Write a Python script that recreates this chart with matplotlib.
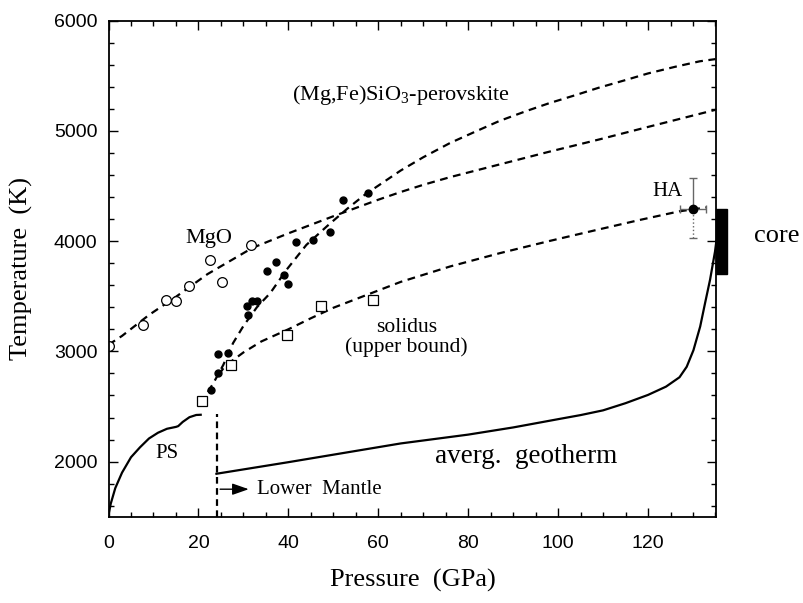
import matplotlib
matplotlib.use("Agg")
import matplotlib.pyplot as plt
import matplotlib.transforms as mtransforms
from matplotlib.patches import Rectangle
from matplotlib.ticker import MultipleLocator

plt.rcParams["mathtext.fontset"] = "custom"
plt.rcParams["mathtext.rm"] = "Liberation Serif"
plt.rcParams["mathtext.it"] = "Liberation Serif:italic"

# ---------------- data ----------------
# MgO melting data (open circles)
mgo_P = [0, 7.6, 12.7, 15.1, 18.0, 22.5, 25.2, 31.6]
mgo_T = [3050, 3235, 3470, 3455, 3590, 3825, 3632, 3968]

# (Mg,Fe)SiO3-perovskite melting data (filled circles)
pv_P = [22.7, 24.3, 24.3, 26.5, 30.7, 31.0, 31.8, 33.0, 35.3, 37.2, 39.0, 39.9,
        41.8, 45.5, 49.2, 52.2, 57.7]
pv_T = [2650, 2800, 2977, 2989, 3407, 3332, 3453, 3453, 3725, 3814, 3689, 3614,
        3993, 4014, 4086, 4368, 4438]

# solidus data (open squares)
sol_P = [20.7, 27.3, 39.7, 47.2, 58.9]
sol_T = [2553, 2877, 3150, 3410, 3468]

# fitted curves (dashed)
mgo_fit_P = [0, 3, 9, 15, 22, 32, 40, 50, 60, 65, 70, 76, 87, 98, 109, 120, 135]
mgo_fit_T = [3060, 3140, 3330, 3495, 3700, 3938, 4070, 4225, 4375, 4445, 4510, 4580,
             4695, 4810, 4920, 5035, 5190]

pv_fit_P = [20.5, 23.3, 25.5, 27.7, 30, 33, 36, 39.6, 44, 48.6, 53, 57, 61, 65, 70,
            76, 82, 87, 93, 98, 104, 109, 115, 120, 126, 131.5, 135]
pv_fit_T = [2530, 2710, 2875, 3075, 3230, 3400, 3530, 3740, 3965, 4135, 4290, 4420,
            4530, 4640, 4760, 4890, 5000, 5090, 5180, 5250, 5325, 5390, 5460, 5520,
            5580, 5630, 5650]

sol_fit_P = [24.5, 26, 30, 34, 40, 45, 50, 57, 65, 76, 87, 98, 109, 118, 127, 133]
sol_fit_T = [2790, 2870, 2990, 3090, 3200, 3300, 3395, 3505, 3630, 3770, 3890, 4000,
             4105, 4190, 4270, 4305]

# upper-mantle adiabat (PS)
ps_P = [0, 0.5, 1.5, 3, 5, 7, 9, 11, 13, 15, 15.5, 16.5, 18, 19.5, 20.5]
ps_T = [1520, 1620, 1760, 1900, 2040, 2130, 2210, 2262, 2298, 2315, 2322, 2360, 2403,
        2423, 2425]

# average lower-mantle geotherm
geo_P = [24, 40, 65, 80, 90, 100, 105, 110, 115, 120, 124, 127, 128.6, 130.1, 131.6,
         132.7, 133.8, 134.9, 135.2]
geo_T = [1890, 1995, 2165, 2245, 2310, 2385, 2422, 2465, 2530, 2605, 2680, 2765, 2860,
         3010, 3225, 3440, 3650, 3905, 4000]

# HA point with error bars
ha_P = 130.1
ha_T = 4293
ha_Perr = 2.9
ha_Terr_up = 275
ha_Terr_down = 264

# core temperature range
core_T = [3700, 4290]

# lower mantle boundary
lm_P = 24.2
lm_Ttop = 2435

x_ticks = [0, 20, 40, 60, 80, 100, 120]
y_ticks = [2000, 3000, 4000, 5000, 6000]

# ---------------- figure ----------------
serif = ["Liberation Serif", "DejaVu Serif"]
sans = ["Liberation Sans", "DejaVu Sans"]

fig = plt.figure(figsize=(8.04, 6.03), dpi=100)
ax = fig.add_axes([0.135, 0.143, 0.756, 0.823])

dash = (0, (3.5, 2.5))
ax.plot(mgo_fit_P, mgo_fit_T, color="black", lw=1.6, ls=dash)
ax.plot(pv_fit_P, pv_fit_T, color="black", lw=1.6, ls=dash)
ax.plot(sol_fit_P, sol_fit_T, color="black", lw=1.6, ls=dash)

ax.plot(ps_P, ps_T, color="black", lw=1.6)
ax.plot(geo_P, geo_T, color="black", lw=1.6)
ax.plot([lm_P, lm_P], [1500, lm_Ttop], color="black", lw=1.6, ls=(0, (3, 2)))

ax.plot(mgo_P, mgo_T, ls="none", marker="o", ms=7, mfc="white", mec="black", mew=0.9)
ax.plot(sol_P, sol_T, ls="none", marker="s", ms=6.5, mfc="white", mec="black", mew=0.9)
ax.plot(pv_P, pv_T, ls="none", marker="o", ms=5, mfc="black", mec="black")

# HA error bars
eb1 = ax.errorbar([ha_P], [ha_T], xerr=[ha_Perr], yerr=[[0], [ha_Terr_up]],
                  fmt="none", ecolor="0.4", elinewidth=1, capsize=3)
eb2 = ax.errorbar([ha_P], [ha_T], yerr=[[ha_Terr_down], [0]],
                  fmt="none", ecolor="0.4", elinewidth=1, capsize=3)
for lc in eb2[2]:
    lc.set_linestyle(":")
ax.plot([ha_P], [ha_T], marker="o", ms=6, color="black")

# core bar
trans = mtransforms.blended_transform_factory(ax.transAxes, ax.transData)
ax.add_patch(Rectangle((1.0, core_T[0]), 0.017, core_T[1] - core_T[0],
                       transform=trans, color="black", clip_on=False))

# arrow for lower mantle
ax.annotate("", xy=(31.8, 1750), xytext=(lm_P, 1750),
            arrowprops=dict(arrowstyle="-|>,head_length=1.0,head_width=0.35",
                            color="black", lw=1.0))

# texts
ax.text(40.8, 5323, r"(Mg,Fe)SiO$_{\mathrm{3}}$-perovskite", fontsize=16,
        family=serif, ha="left", va="center")
ax.text(22.2, 4022, "MgO", fontsize=16, family=serif, ha="center", va="center")
ax.text(66.3, 3125, "solidus\n(upper bound)", fontsize=15.5, family=serif,
        ha="center", va="center", linespacing=1.0)
ax.text(124.4, 4453, "HA", fontsize=15, family=serif, ha="center", va="center")
ax.text(148.6, 4043, "core", fontsize=19, family=serif, ha="center", va="center",
        clip_on=False)
ax.text(12.9, 2075, "PS", fontsize=15, family=serif, ha="center", va="center")
ax.text(92.9, 2044, "averg.  geotherm", fontsize=19.5, family=serif, ha="center",
        va="center")
ax.text(33.0, 1750, "Lower  Mantle", fontsize=15, family=serif, ha="left",
        va="center")

ax.set_xlim(0, 135.2)
ax.set_ylim(1500, 6000)
ax.set_xticks(x_ticks)
ax.set_yticks(y_ticks)
ax.xaxis.set_minor_locator(MultipleLocator(5))
ax.yaxis.set_minor_locator(MultipleLocator(200))
ax.tick_params(which="both", direction="in", top=True, right=True, width=1.0)
ax.tick_params(which="major", length=6.5)
ax.tick_params(which="minor", length=3.8)
ax.tick_params(axis="x", which="major", pad=13)
ax.tick_params(axis="y", which="major", pad=8)
for lab in ax.get_xticklabels() + ax.get_yticklabels():
    lab.set_family(sans)
    lab.set_fontsize(14)
for s in ax.spines.values():
    s.set_linewidth(1.3)

ax.set_xlabel("Pressure  (GPa)", fontsize=19, family=serif)
ax.set_ylabel("Temperature  (K)", fontsize=19, family=serif)
ax.xaxis.set_label_coords(0.5, -0.105)
ax.yaxis.set_label_coords(-0.125, 0.5)

fig.savefig("out.png", dpi=100, facecolor="white")
